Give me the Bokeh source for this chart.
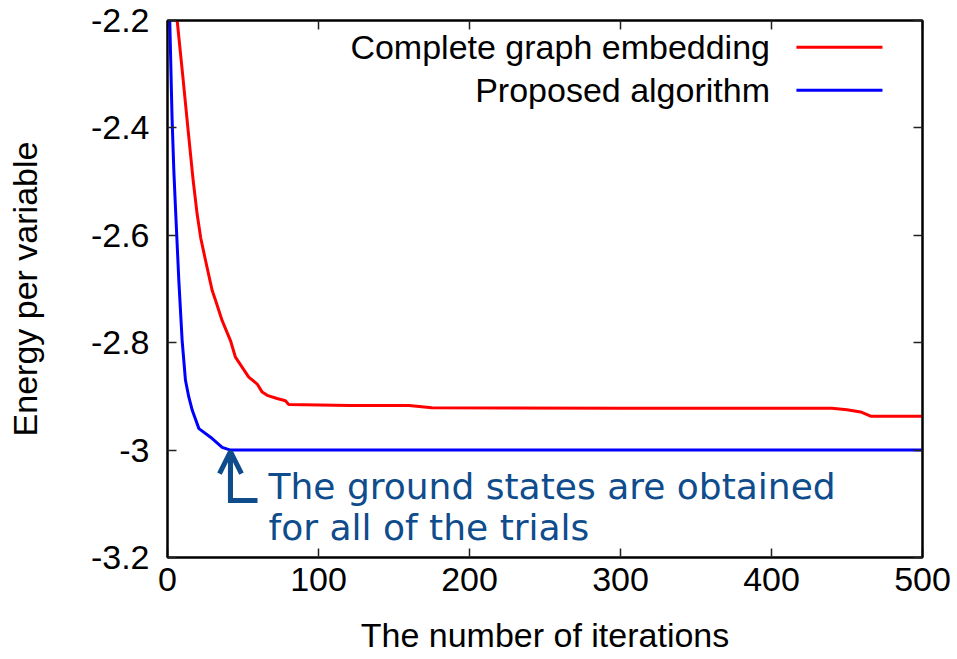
from bokeh.plotting import figure
from bokeh.models import (LinearAxis, FixedTicker, Label, Arrow, OpenHead,
                          CustomLabelingPolicy)
from bokeh.embed import file_html
from bokeh.resources import INLINE

# Convergence of the energy per variable against iteration count
cge_iter = [2, 6.4, 10, 13.5, 17, 19.6, 22, 25.2, 29.6, 31.8, 36.2, 41.7, 45.0,
            49.5, 53.8, 59.4, 62.7, 66.0, 72.6, 78.1, 80.3, 121, 160, 175,
            300, 440, 450, 459, 466, 500]
cge_energy = [-2.03, -2.2, -2.3, -2.4, -2.498, -2.56, -2.605, -2.647, -2.703,
              -2.721, -2.759, -2.796, -2.827, -2.846, -2.864, -2.877, -2.892,
              -2.898, -2.904, -2.908, -2.915, -2.917, -2.917, -2.921,
              -2.922, -2.922, -2.925, -2.929, -2.937, -2.937]

prop_iter = [0, 1.5, 3, 4.2, 5.3, 7.5, 9.7, 11.9, 14.1, 16.4, 20.8, 28.5, 36.2,
             41.7, 500]
prop_energy = [-1.9, -2.2, -2.38, -2.48, -2.55, -2.684, -2.796, -2.87, -2.901,
               -2.926, -2.96, -2.976, -2.995, -3.0, -3.0]

x_ticks = [0, 100, 200, 300, 400, 500]
x_tick_labels = ["0", "100", "200", "300", "400", "500"]
y_ticks = [-3.2, -3.0, -2.8, -2.6, -2.4, -2.2]
y_tick_labels = ["-3.2", "-3", "-2.8", "-2.6", "-2.4", "-2.2"]

series_names = ["Complete graph embedding", "Proposed algorithm"]
series_colors = ["#ff0000", "#0000ff"]

note_lines = ["The ground states are obtained", "for all of the trials"]
note_color = "#0f4c8c"

FONT = "Liberation Sans"
FS = "34px"

p = figure(width=957, height=659, x_range=(0, 500), y_range=(-3.2, -2.2),
           output_backend="svg", toolbar_location=None,
           min_border_left=167, min_border_right=35,
           min_border_top=20, min_border_bottom=102)
p.background_fill_color = "white"
p.border_fill_color = "white"
p.grid.visible = False
p.outline_line_color = "black"
p.outline_line_width = 2

# mirrored axes carry ticks only
no_labels = CustomLabelingPolicy(code="return new Set()")

def style_axis(ax, show_labels):
    ax.axis_line_color = "black"
    ax.axis_line_width = 2
    ax.major_tick_in = 9
    ax.major_tick_out = 0
    ax.major_tick_line_width = 1.5
    ax.major_tick_line_color = "#222222"
    ax.minor_tick_line_color = None
    ax.major_label_text_font = FONT
    ax.major_label_text_font_size = FS
    ax.major_label_text_color = "black"
    ax.axis_label_text_font = FONT
    ax.axis_label_text_font_style = "normal"
    ax.axis_label_text_font_size = FS
    ax.axis_label_text_color = "black"
    if not show_labels:
        ax.major_label_policy = no_labels
        ax.major_label_text_font_size = "1px"
        ax.major_label_standoff = 0

xa = p.xaxis[0]
ya = p.yaxis[0]
xa.ticker = FixedTicker(ticks=x_ticks)
ya.ticker = FixedTicker(ticks=y_ticks)
xa.major_label_overrides = {float(t): s for t, s in zip(x_ticks, x_tick_labels)}
ya.major_label_overrides = {float(t): s for t, s in zip(y_ticks, y_tick_labels)}
style_axis(xa, True)
style_axis(ya, True)
xa.axis_label = "The number of iterations"
ya.axis_label = "Energy per variable"
xa.major_label_standoff = 10
xa.axis_label_standoff = 22
ya.major_label_standoff = 18
ya.axis_label_standoff = 44

top_ax = LinearAxis(ticker=FixedTicker(ticks=x_ticks))
right_ax = LinearAxis(ticker=FixedTicker(ticks=y_ticks))
style_axis(top_ax, False)
style_axis(right_ax, False)
p.add_layout(top_ax, "above")
p.add_layout(right_ax, "right")

p.line(cge_iter, cge_energy, line_color=series_colors[0], line_width=3)
p.line(prop_iter, prop_energy, line_color=series_colors[1], line_width=3)

# Key: text right-aligned, sample line to its right
key_text_x = 399
key_line_x = [416.5, 473.5]
key_rows_y = [-2.250, -2.330]
for name, color, ky in zip(series_names, series_colors, key_rows_y):
    p.add_layout(Label(x=key_text_x, y=ky, text=name, text_align="right",
                       text_baseline="middle", text_font=FONT,
                       text_font_size=FS, text_color="black"))
    p.line(key_line_x, [ky, ky], line_color=color, line_width=3)

# Pointer to where the proposed algorithm reaches the ground state
corner_x, corner_y = 41.7, -3.094
p.line([59.6, corner_x, corner_x], [corner_y, corner_y, -3.03],
       line_color=note_color, line_width=5, line_join="miter")
p.add_layout(Arrow(end=OpenHead(size=22, line_width=5, line_color=note_color),
                   x_start=corner_x, y_start=corner_y,
                   x_end=corner_x, y_end=-3.003,
                   line_color=note_color, line_width=5))

note_y = [-3.068, -3.145]
for txt, ny in zip(note_lines, note_y):
    p.add_layout(Label(x=66.9, y=ny, text=txt, text_align="left",
                       text_baseline="alphabetic", text_font="DejaVu Sans",
                       text_font_size="36px", text_color=note_color))

open("out.html", "w").write(file_html(p, INLINE))
